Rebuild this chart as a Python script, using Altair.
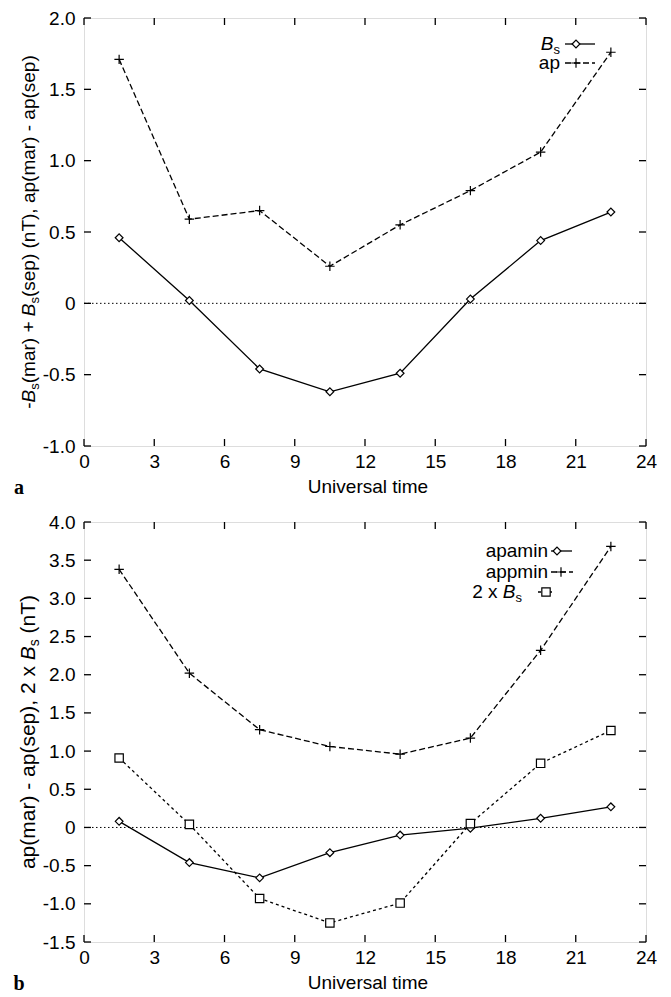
import altair as alt
import pandas as pd

# ---------------- data ----------------
hours = [1.5, 4.5, 7.5, 10.5, 13.5, 16.5, 19.5, 22.5]
bs_a = [0.46, 0.02, -0.46, -0.62, -0.49, 0.03, 0.44, 0.64]
ap_a = [1.71, 0.59, 0.65, 0.26, 0.55, 0.79, 1.06, 1.76]
apamin_b = [0.08, -0.46, -0.66, -0.33, -0.10, -0.01, 0.12, 0.27]
appmin_b = [3.38, 2.02, 1.28, 1.06, 0.96, 1.17, 2.32, 3.68]
bs2_b = [0.91, 0.04, -0.93, -1.25, -0.99, 0.05, 0.84, 1.27]

x_ticks = [0, 3, 6, 9, 12, 15, 18, 21, 24]
ya_ticks = [-1.0, -0.5, 0.0, 0.5, 1.0, 1.5, 2.0]
yb_ticks = [-1.5, -1.0, -0.5, 0.0, 0.5, 1.0, 1.5, 2.0, 2.5, 3.0, 3.5, 4.0]

# ---------------- style ----------------
W = 562
HA = 428
HB = 420
FONT = "Liberation Sans"
FS = 19
SUB = 13
PLUS = "M-1,0L1,0M0,-1L0,1"
NB = "\u00a0"

AW = {' ': 278, NB: 278, '-': 333, '+': 584, '(': 333, ')': 333, ',': 278, '.': 278,
      'a': 556, 'e': 556, 'm': 833, 'n': 556, 'p': 556, 'r': 333, 's': 500,
      'x': 500, 'B': 667, 'T': 611, '2': 556}


def tw(s, size):
    return sum(AW.get(c, 556) for c in s) * size / 1000.0


one = pd.DataFrame({"k": [0]})
ylab = ("datum.value == 0 ? '0' : (datum.value < 0 ? '-' + format(-datum.value, '.1f')"
        " : format(datum.value, '.1f'))")


def txt(x, y, s, size=FS, style="normal", align="left", angle=0, font=FONT,
        weight="normal", baseline="alphabetic"):
    return alt.Chart(one).mark_text(
        text=s.replace(" ", NB), font=font, fontSize=size, fontStyle=style,
        fontWeight=weight, align=align, baseline=baseline, angle=angle, color="black"
    ).encode(x=alt.value(x), y=alt.value(y))


def seg(x1, x2, y, dash=None):
    kw = dict(color="black", strokeWidth=1.3)
    if dash:
        kw["strokeDash"] = dash
    return alt.Chart(one).mark_rule(**kw).encode(
        x=alt.value(x1), x2=alt.value(x2), y=alt.value(y))


def sym(x, y, shape, size):
    return alt.Chart(one).mark_point(
        shape=shape, size=size, filled=True, fill="white", stroke="black",
        strokeWidth=1.2, opacity=1).encode(x=alt.value(x), y=alt.value(y))


STY = {
    "solid": dict(dash=None, shape="diamond", size=60),
    "dashed": dict(dash=[6, 3], shape=PLUS, size=90),
    "dotted": dict(dash=[3, 3], shape="square", size=70),
}


def panel(series, ydom, yticks, H, legend, title_segs, letter):
    xs = alt.Scale(domain=[0, 24], nice=False, zero=False)
    ys = alt.Scale(domain=ydom, nice=False, zero=False)
    xaxis = alt.Axis(values=x_ticks, format="d", ticks=False, domain=False, grid=False,
                     labelFont=FONT, labelFontSize=FS, labelColor="black",
                     labelPadding=6, title=None, labelFlush=False)
    yaxis = alt.Axis(values=yticks, labelExpr=ylab, ticks=False, domain=False, grid=False,
                     labelFont=FONT, labelFontSize=FS, labelColor="black",
                     labelPadding=9, title=None, labelFlush=False)
    X = lambda f: alt.X(f, scale=xs, axis=xaxis)
    Y = lambda f: alt.Y(f, scale=ys, axis=yaxis)
    layers = []
    # zero dotted line
    layers.append(alt.Chart(pd.DataFrame({"v": [0.0]})).mark_rule(
        color="black", strokeWidth=1, strokeDash=[1.5, 2.5]).encode(
        y=Y("v:Q"), x=alt.value(0), x2=alt.value(W)))
    # inward ticks on all four sides
    xt = pd.DataFrame({"t": x_ticks})
    yt = pd.DataFrame({"v": yticks})
    tk = dict(color="black", strokeWidth=1.3)
    layers.append(alt.Chart(xt).mark_rule(**tk).encode(
        x=X("t:Q"), y=alt.value(H), y2=alt.value(H - 7)))
    layers.append(alt.Chart(xt).mark_rule(**tk).encode(
        x=X("t:Q"), y=alt.value(0), y2=alt.value(7)))
    layers.append(alt.Chart(yt).mark_rule(**tk).encode(
        y=Y("v:Q"), x=alt.value(0), x2=alt.value(7)))
    layers.append(alt.Chart(yt).mark_rule(**tk).encode(
        y=Y("v:Q"), x=alt.value(W - 7), x2=alt.value(W)))
    # data series
    for vals, st in series:
        s = STY[st]
        df = pd.DataFrame({"h": hours, "v": vals})
        lkw = dict(color="black", strokeWidth=1.3)
        if s["dash"]:
            lkw["strokeDash"] = s["dash"]
        enc = dict(x=X("h:Q"), y=Y("v:Q"))
        layers.append(alt.Chart(df).mark_line(**lkw).encode(**enc))
        layers.append(alt.Chart(df).mark_point(
            shape=s["shape"], size=s["size"], filled=True, fill="white", stroke="black",
            strokeWidth=1.2, opacity=1).encode(**enc))
    # legend
    for item in legend:
        (parts, tend, ty, lx1, lx2, sx, st) = item
        s = STY[st]
        x = tend
        for (t, style, size, dy) in reversed(parts):
            if t.strip():
                layers.append(txt(x, ty + dy, t, size=size, style=style, align="right"))
            x -= tw(t, size)
        layers.append(seg(lx1, lx2, ty - 6, s["dash"]))
        layers.append(sym(sx, ty - 6, s["shape"], s["size"]))
    # y title (rotated, mixed styles)
    total = sum(tw(t, size) for (t, style, size, dx) in title_segs)
    ypos = H / 2 + total / 2
    for (t, style, size, dx) in title_segs:
        if t.strip():
            layers.append(txt(-49 + dx, ypos, t, size=size, style=style, align="left",
                              angle=270))
        ypos -= tw(t, size)
    # x title and panel letter
    layers.append(txt(W / 2 + 3, H + 41, "Universal time", baseline="middle", align="center"))
    layers.append(txt(-65, H + 42, letter, size=20, font="Liberation Serif", weight="bold",
                      baseline="middle", align="center"))
    return alt.layer(*layers).properties(width=W, height=H)


legend_a = [
    ([("B", "italic", FS, 0), ("s", "normal", SUB, 4)], 476, 32, 481, 511, 492, "solid"),
    ([("ap", "normal", FS, 0)], 476, 51, 481, 511, 492, "dashed"),
]
title_a = [("-", "normal", FS, 0), ("B", "italic", FS, 0), ("s", "normal", SUB, 4),
           ("(mar) +", "normal", FS, 0), (" ", "normal", FS, 0),
           ("B", "italic", FS, 0), ("s", "normal", SUB, 4),
           ("(sep) (nT), ap(mar) - ap(sep)", "normal", FS, 0)]

legend_b = [
    ([("apamin", "normal", FS, 0)], 464, 35, 467, 488, 473, "solid"),
    ([("appmin", "normal", FS, 0)], 464, 56, 467, 489, 477, "dashed"),
    ([("2 x", "normal", FS, 0), (" ", "normal", FS, 0), ("B", "italic", FS, 0),
      ("s", "normal", SUB, 4)], 438, 76, 454, 468, 462, "dotted"),
]
TB = 21
title_b = [("ap(mar) - ap(sep), 2 x", "normal", TB, 0), (" ", "normal", TB, 0),
           ("B", "italic", TB, 0), ("s", "normal", 14, 4), (" ", "normal", TB, 0),
           ("(nT)", "normal", TB, 0)]

pa = panel([(bs_a, "solid"), (ap_a, "dashed")], [-1.0, 2.0], ya_ticks, HA,
           legend_a, title_a, "a")
pb = panel([(apamin_b, "solid"), (appmin_b, "dashed"), (bs2_b, "dotted")], [-1.5, 4.0],
           yb_ticks, HB, legend_b, title_b, "b")

chart = alt.vconcat(pa, pb, spacing=13).properties(
    padding={"left": 12, "top": 8, "right": 5, "bottom": 0}
).configure_view(stroke="black", strokeWidth=1.5).configure(background="white")

chart.save("out.html", embed_options={"renderer": "svg", "actions": False})
